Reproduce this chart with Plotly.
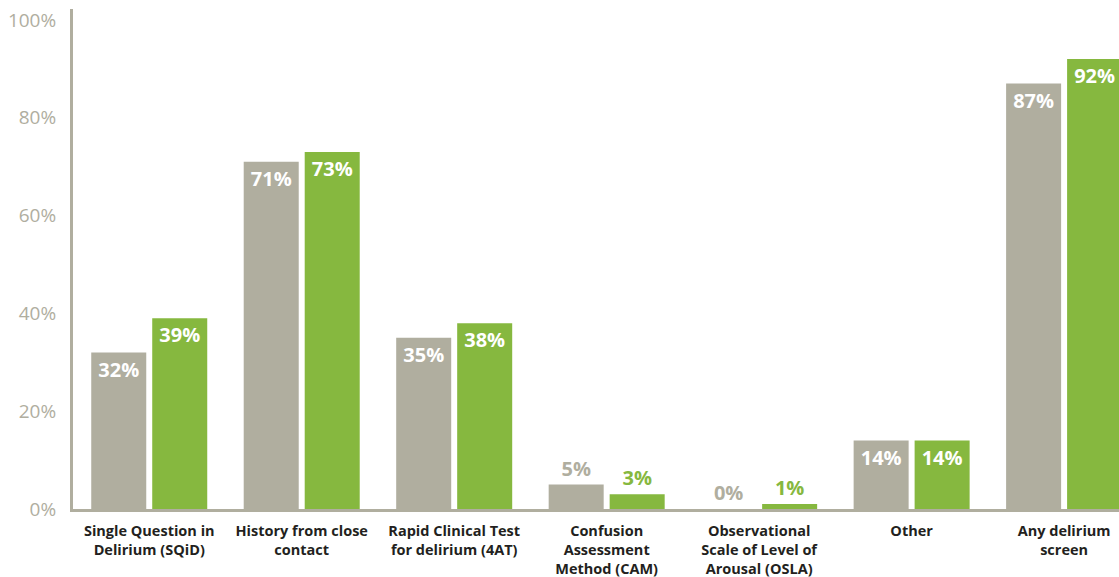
import plotly.graph_objects as go

categories = [
    "Single Question in<br>Delirium (SQiD)",
    "History from close<br>contact",
    "Rapid Clinical Test<br>for delirium (4AT)",
    "Confusion<br>Assessment<br>Method (CAM)",
    "Observational<br>Scale of Level of<br>Arousal (OSLA)",
    "Other",
    "Any delirium<br>screen",
]
series_a = [32, 71, 35, 5, 0, 14, 87]
series_b = [39, 73, 38, 3, 1, 14, 92]

GRAY = "#b0ae9f"
GREEN = "#86b83f"
LABEL_FONT = "Open Sans"


def text_positions(values):
    return ["inside" if v >= 10 else "outside" for v in values]


def text_colors(values, color):
    return ["white" if v >= 10 else color for v in values]


fig = go.Figure()
for vals, color in [(series_a, GRAY), (series_b, GREEN)]:
    fig.add_trace(go.Bar(
        x=categories,
        y=vals,
        marker=dict(color=color, line=dict(width=0)),
        text=[f"{v}%" for v in vals],
        textposition=text_positions(vals),
        insidetextanchor="end",
        textfont=dict(family=LABEL_FONT, size=20, weight="bold",
                      color=text_colors(vals, color)),
        cliponaxis=False,
        showlegend=False,
    ))

fig.update_layout(
    width=1119,
    height=577,
    margin=dict(l=73, r=0, t=9, b=68),
    plot_bgcolor="white",
    paper_bgcolor="white",
    barmode="group",
    bargap=0.2,
    bargroupgap=0.098,
    uniformtext=dict(minsize=20, mode="show"),
)
fig.update_xaxes(
    range=[-0.5, 6.36],
    automargin=False,
    showline=True,
    linecolor=GRAY,
    linewidth=3,
    showgrid=False,
    ticks="",
    tickfont=dict(family=LABEL_FONT, size=14.5, weight="bold", color="#231f20"),
    ticklabelstandoff=7,
)
fig.update_yaxes(
    range=[0, 102.25],
    automargin=False,
    tickvals=[0, 20, 40, 60, 80, 100],
    ticktext=["0%", "20%", "40%", "60%", "80%", "100%"],
    showline=True,
    linecolor=GRAY,
    linewidth=3,
    showgrid=False,
    zeroline=False,
    ticks="",
    tickfont=dict(family=LABEL_FONT, size=19, color=GRAY),
    ticklabelstandoff=10,
)

fig.write_html("out.html")
